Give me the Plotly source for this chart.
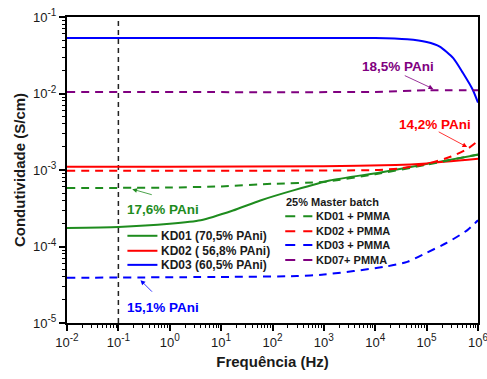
import plotly.graph_objects as go

# Frequency (Hz) and conductivity (S/cm) readings for each sample
f_kd01 = [0.01, 0.1, 1, 4, 17, 58, 275, 1300, 12600, 117000, 1e6]
s_kd01 = [1.75e-4, 1.8e-4, 1.98e-4, 2.2e-4, 2.95e-4, 4.0e-4, 5.5e-4, 7.3e-4, 9.3e-4, 1.22e-3, 1.58e-3]

f_kd02 = [0.01, 1, 1000, 25000, 1e5, 1e6]
s_kd02 = [1.1e-3, 1.1e-3, 1.12e-3, 1.16e-3, 1.22e-3, 1.4e-3]

f_kd03 = [0.01, 1e4, 42000, 100000, 180000, 330000, 510000, 790000, 1e6]
s_kd03 = [5.3e-2, 5.3e-2, 5.1e-2, 4.7e-2, 4.1e-2, 2.9e-2, 1.85e-2, 1.12e-2, 7.6e-3]

f_kd01_pm = [0.01, 1, 10, 100, 1000, 1e4, 1e5, 1e6]
s_kd01_pm = [5.8e-4, 5.9e-4, 6.1e-4, 6.6e-4, 7.0e-4, 8.8e-4, 1.17e-3, 1.6e-3]

f_kd02_pm = [0.01, 1e4, 30000, 1e5, 300000, 630000, 1e6]
s_kd02_pm = [9.8e-4, 1.0e-3, 1.05e-3, 1.2e-3, 1.5e-3, 1.9e-3, 2.4e-3]

f_kd03_pm = [0.01, 10, 300, 1000, 14500, 42000, 1e5, 250000, 630000, 1e6]
s_kd03_pm = [3.9e-5, 4.0e-5, 4.1e-5, 4.3e-5, 5.4e-5, 6.3e-5, 8.3e-5, 1.12e-4, 1.65e-4, 2.2e-4]

f_kd07_pm = [0.01, 1e4, 1e5, 1e6]
s_kd07_pm = [1.05e-2, 1.05e-2, 1.1e-2, 1.1e-2]

names_pure = ["KD01 (70,5% PAni)", "KD02 ( 56,8% PAni)", "KD03 (60,5% PAni)"]
names_blend = ["KD01 + PMMA", "KD02 + PMMA", "KD03 + PMMA", "KD07+ PMMA"]
blend_title = "25% Master batch"

# decade tick positions and exponent labels
x_ticks = [1e-2, 1e-1, 1e0, 1e1, 1e2, 1e3, 1e4, 1e5, 1e6]
x_exps = ["-2", "-1", "0", "1", "2", "3", "4", "5", "6"]
y_ticks = [1e-5, 1e-4, 1e-3, 1e-2, 1e-1]
y_exps = ["-5", "-4", "-3", "-2", "-1"]

GREEN = "#1e8c1e"
RED = "#ff0000"
BLUE = "#0000ff"
PURPLE = "#800080"
DASH = "8px,6px"

FONT = "Liberation Sans, Arial, sans-serif"


def power_label(e):
    return f"10<sup><span style='font-size:10px'>{e}</span></sup>"


def minor_vals(decades):
    return [m * d for d in decades[:-1] for m in range(2, 10)]


fig = go.Figure()

series = [
    (f_kd01, s_kd01, GREEN, "solid", names_pure[0]),
    (f_kd02, s_kd02, RED, "solid", names_pure[1]),
    (f_kd03, s_kd03, BLUE, "solid", names_pure[2]),
    (f_kd01_pm, s_kd01_pm, GREEN, DASH, names_blend[0]),
    (f_kd02_pm, s_kd02_pm, RED, DASH, names_blend[1]),
    (f_kd03_pm, s_kd03_pm, BLUE, DASH, names_blend[2]),
    (f_kd07_pm, s_kd07_pm, PURPLE, DASH, names_blend[3]),
]
for fx, sy, col, dash, nm in series:
    fig.add_trace(go.Scatter(x=fx, y=sy, mode="lines", name=nm,
                             line=dict(color=col, width=2, dash=dash, shape="spline", smoothing=0.6),
                             showlegend=False))

# vertical reference line at 0.1 Hz
fig.add_shape(type="line", xref="x", yref="paper", x0=0.1, x1=0.1, y0=0, y1=1,
              line=dict(color="#222222", width=1.5, dash="5px,4px"), layer="below")

# hand-built legends (compact row spacing)
legend_rows_pure = [0.285, 0.236, 0.190]
for nm, col, yy in zip(names_pure, [GREEN, RED, BLUE], legend_rows_pure):
    fig.add_shape(type="line", xref="paper", yref="paper", x0=0.147, x1=0.220, y0=yy, y1=yy,
                  line=dict(color=col, width=2))
    fig.add_annotation(xref="paper", yref="paper", x=0.223, y=yy, text=nm, showarrow=False,
                       xanchor="left", yanchor="middle",
                       font=dict(family=FONT, size=12, color="#1a1a1a", weight="bold"))

fig.add_annotation(xref="paper", yref="paper", x=0.528, y=0.395, text=blend_title,
                   showarrow=False, xanchor="left", yanchor="middle",
                   font=dict(family=FONT, size=11, color="#1a1a1a", weight="bold"))
legend_rows_blend = [0.349, 0.300, 0.255, 0.206]
for nm, col, yy in zip(names_blend, [GREEN, RED, BLUE, PURPLE], legend_rows_blend):
    fig.add_shape(type="line", xref="paper", yref="paper", x0=0.531, x1=0.597, y0=yy, y1=yy,
                  line=dict(color=col, width=2, dash="10px,8px"))
    fig.add_annotation(xref="paper", yref="paper", x=0.601, y=yy, text=nm, showarrow=False,
                       xanchor="left", yanchor="middle",
                       font=dict(family=FONT, size=11, color="#1a1a1a", weight="bold"))

# PAni content labels with pointer arrows (log10 coordinates)
labels = [
    ("17,6% PAni", GREEN, -0.13, -3.52, -0.73, -3.25, 21, 6),
    ("15,1% PAni", BLUE, -0.13, -4.80, -0.57, -4.44, 13, 13),
    ("18,5% PAni", PURPLE, 4.45, -1.65, 5.13, -1.94, -30, -14),
    ("14,2% PAni", RED, 5.16, -2.40, 5.79, -2.70, -30, -16),
]
for txt, col, tx, ty, hx, hy, ax, ay in labels:
    fig.add_annotation(x=tx, y=ty, xref="x", yref="y", text=txt, showarrow=False,
                       font=dict(family=FONT, size=13.5, color=col, weight="bold"))
    fig.add_annotation(x=hx, y=hy, xref="x", yref="y", text="", showarrow=True,
                       ax=ax, ay=ay, arrowhead=2, arrowsize=1.2, arrowwidth=0.8,
                       arrowcolor=col)

axis_common = dict(
    type="log", showgrid=False, zeroline=False, automargin=False,
    showline=True, linecolor="black", linewidth=2, mirror=True,
    ticks="outside", ticklen=6, tickwidth=1.5, tickcolor="black",
    tickmode="array", ticklabeloverflow="allow",
    tickfont=dict(family=FONT, size=13, color="#1a1a1a"),
)

fig.update_xaxes(**axis_common, range=[-2, 6], tickvals=x_ticks,
                 ticktext=[power_label(e) for e in x_exps],
                 minor=dict(tickmode="array", tickvals=minor_vals(x_ticks), ticks="outside",
                            ticklen=3, tickwidth=1, tickcolor="black", showgrid=False),
                 title=dict(text="Frequência (Hz)", standoff=8,
                            font=dict(family=FONT, size=15, color="#1a1a1a", weight="bold")))
fig.update_yaxes(**axis_common, range=[-5, -1], tickvals=y_ticks,
                 ticktext=[power_label(e) for e in y_exps],
                 minor=dict(tickmode="array", tickvals=minor_vals(y_ticks), ticks="outside",
                            ticklen=3, tickwidth=1, tickcolor="black", showgrid=False),
                 title=dict(text="Condutividade (S/cm)", standoff=4,
                            font=dict(family=FONT, size=15, color="#1a1a1a", weight="bold")))

fig.update_layout(
    width=487, height=379,
    margin=dict(l=67, r=9, t=17, b=56),
    paper_bgcolor="white", plot_bgcolor="white",
    showlegend=False,
)

fig.write_html("out.html")
